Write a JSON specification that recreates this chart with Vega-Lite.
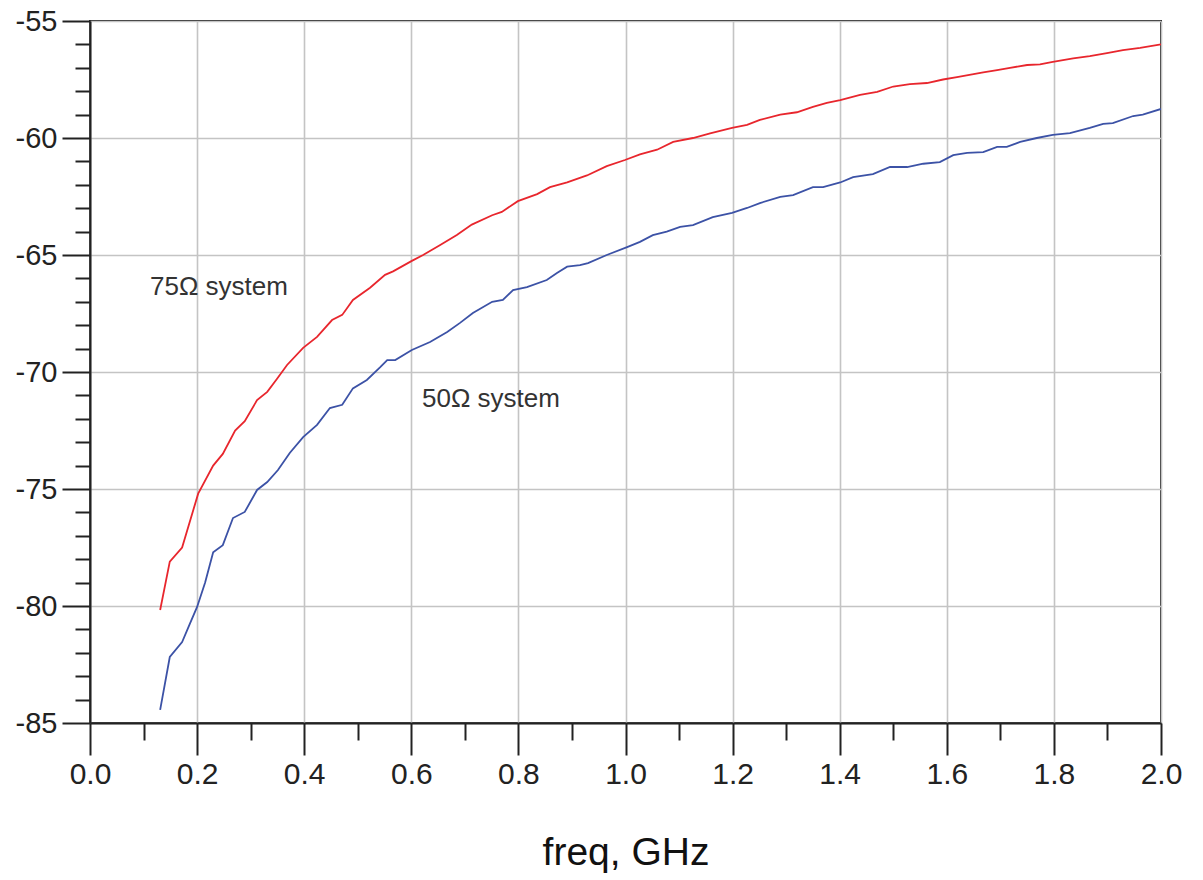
{
  "$schema": "https://vega.github.io/schema/vega-lite/v6.json",
  "width": 1071,
  "height": 702,
  "autosize": {"type": "none"},
  "padding": {"left": 90, "top": 21, "right": 42, "bottom": 157},
  "background": "white",
  "config": {
    "view": {"stroke": "#222", "strokeWidth": 2},
    "font": "Liberation Sans"
  },
  "datasets": {
    "curves": [
      {"system": "75", "f": 0.131, "db": -80.17},
      {"system": "75", "f": 0.149, "db": -78.1},
      {"system": "75", "f": 0.172, "db": -77.5},
      {"system": "75", "f": 0.202, "db": -75.2},
      {"system": "75", "f": 0.230, "db": -74.0},
      {"system": "75", "f": 0.248, "db": -73.5},
      {"system": "75", "f": 0.271, "db": -72.5},
      {"system": "75", "f": 0.289, "db": -72.1},
      {"system": "75", "f": 0.312, "db": -71.2},
      {"system": "75", "f": 0.331, "db": -70.85},
      {"system": "75", "f": 0.349, "db": -70.3},
      {"system": "75", "f": 0.368, "db": -69.7},
      {"system": "75", "f": 0.398, "db": -68.97},
      {"system": "75", "f": 0.424, "db": -68.5},
      {"system": "75", "f": 0.452, "db": -67.78},
      {"system": "75", "f": 0.471, "db": -67.56},
      {"system": "75", "f": 0.491, "db": -66.92},
      {"system": "75", "f": 0.523, "db": -66.4},
      {"system": "75", "f": 0.551, "db": -65.85},
      {"system": "75", "f": 0.566, "db": -65.7},
      {"system": "75", "f": 0.601, "db": -65.25},
      {"system": "75", "f": 0.622, "db": -65.0},
      {"system": "75", "f": 0.654, "db": -64.57},
      {"system": "75", "f": 0.685, "db": -64.15},
      {"system": "75", "f": 0.713, "db": -63.7},
      {"system": "75", "f": 0.751, "db": -63.3},
      {"system": "75", "f": 0.769, "db": -63.16},
      {"system": "75", "f": 0.799, "db": -62.7},
      {"system": "75", "f": 0.835, "db": -62.4},
      {"system": "75", "f": 0.859, "db": -62.1},
      {"system": "75", "f": 0.891, "db": -61.9},
      {"system": "75", "f": 0.928, "db": -61.6},
      {"system": "75", "f": 0.965, "db": -61.2},
      {"system": "75", "f": 0.999, "db": -60.94},
      {"system": "75", "f": 1.027, "db": -60.7},
      {"system": "75", "f": 1.059, "db": -60.5},
      {"system": "75", "f": 1.089, "db": -60.17},
      {"system": "75", "f": 1.126, "db": -60.0},
      {"system": "75", "f": 1.158, "db": -59.8},
      {"system": "75", "f": 1.199, "db": -59.57},
      {"system": "75", "f": 1.227, "db": -59.44},
      {"system": "75", "f": 1.251, "db": -59.23},
      {"system": "75", "f": 1.289, "db": -59.0},
      {"system": "75", "f": 1.320, "db": -58.9},
      {"system": "75", "f": 1.350, "db": -58.67},
      {"system": "75", "f": 1.376, "db": -58.5},
      {"system": "75", "f": 1.401, "db": -58.38},
      {"system": "75", "f": 1.438, "db": -58.16},
      {"system": "75", "f": 1.470, "db": -58.03},
      {"system": "75", "f": 1.500, "db": -57.8},
      {"system": "75", "f": 1.531, "db": -57.7},
      {"system": "75", "f": 1.563, "db": -57.65},
      {"system": "75", "f": 1.593, "db": -57.5},
      {"system": "75", "f": 1.619, "db": -57.4},
      {"system": "75", "f": 1.668, "db": -57.2},
      {"system": "75", "f": 1.694, "db": -57.1},
      {"system": "75", "f": 1.718, "db": -57.0},
      {"system": "75", "f": 1.750, "db": -56.88},
      {"system": "75", "f": 1.774, "db": -56.85},
      {"system": "75", "f": 1.798, "db": -56.75},
      {"system": "75", "f": 1.836, "db": -56.6},
      {"system": "75", "f": 1.867, "db": -56.5},
      {"system": "75", "f": 1.899, "db": -56.37},
      {"system": "75", "f": 1.929, "db": -56.24},
      {"system": "75", "f": 1.961, "db": -56.15},
      {"system": "75", "f": 2.0, "db": -56.0},
      {"system": "50", "f": 0.131, "db": -84.44},
      {"system": "50", "f": 0.149, "db": -82.18},
      {"system": "50", "f": 0.172, "db": -81.54},
      {"system": "50", "f": 0.187, "db": -80.73},
      {"system": "50", "f": 0.200, "db": -80.04},
      {"system": "50", "f": 0.215, "db": -79.0},
      {"system": "50", "f": 0.230, "db": -77.7},
      {"system": "50", "f": 0.248, "db": -77.4},
      {"system": "50", "f": 0.267, "db": -76.24},
      {"system": "50", "f": 0.289, "db": -75.98},
      {"system": "50", "f": 0.312, "db": -75.04},
      {"system": "50", "f": 0.331, "db": -74.7},
      {"system": "50", "f": 0.351, "db": -74.19},
      {"system": "50", "f": 0.373, "db": -73.46},
      {"system": "50", "f": 0.398, "db": -72.78},
      {"system": "50", "f": 0.424, "db": -72.26},
      {"system": "50", "f": 0.448, "db": -71.54},
      {"system": "50", "f": 0.471, "db": -71.4},
      {"system": "50", "f": 0.491, "db": -70.7},
      {"system": "50", "f": 0.517, "db": -70.34},
      {"system": "50", "f": 0.542, "db": -69.79},
      {"system": "50", "f": 0.555, "db": -69.49},
      {"system": "50", "f": 0.570, "db": -69.49},
      {"system": "50", "f": 0.601, "db": -69.06},
      {"system": "50", "f": 0.635, "db": -68.72},
      {"system": "50", "f": 0.667, "db": -68.29},
      {"system": "50", "f": 0.691, "db": -67.9},
      {"system": "50", "f": 0.715, "db": -67.48},
      {"system": "50", "f": 0.751, "db": -67.0},
      {"system": "50", "f": 0.771, "db": -66.92},
      {"system": "50", "f": 0.790, "db": -66.5},
      {"system": "50", "f": 0.816, "db": -66.37},
      {"system": "50", "f": 0.853, "db": -66.07},
      {"system": "50", "f": 0.872, "db": -65.77},
      {"system": "50", "f": 0.891, "db": -65.5},
      {"system": "50", "f": 0.915, "db": -65.43},
      {"system": "50", "f": 0.930, "db": -65.35},
      {"system": "50", "f": 0.965, "db": -65.0},
      {"system": "50", "f": 1.003, "db": -64.66},
      {"system": "50", "f": 1.027, "db": -64.44},
      {"system": "50", "f": 1.051, "db": -64.15},
      {"system": "50", "f": 1.077, "db": -64.0},
      {"system": "50", "f": 1.102, "db": -63.8},
      {"system": "50", "f": 1.126, "db": -63.72},
      {"system": "50", "f": 1.163, "db": -63.38},
      {"system": "50", "f": 1.199, "db": -63.2},
      {"system": "50", "f": 1.227, "db": -62.99},
      {"system": "50", "f": 1.251, "db": -62.78},
      {"system": "50", "f": 1.289, "db": -62.52},
      {"system": "50", "f": 1.313, "db": -62.44},
      {"system": "50", "f": 1.350, "db": -62.1},
      {"system": "50", "f": 1.369, "db": -62.1},
      {"system": "50", "f": 1.401, "db": -61.9},
      {"system": "50", "f": 1.425, "db": -61.67},
      {"system": "50", "f": 1.462, "db": -61.54},
      {"system": "50", "f": 1.494, "db": -61.24},
      {"system": "50", "f": 1.526, "db": -61.24},
      {"system": "50", "f": 1.556, "db": -61.1},
      {"system": "50", "f": 1.587, "db": -61.03},
      {"system": "50", "f": 1.612, "db": -60.73},
      {"system": "50", "f": 1.638, "db": -60.64},
      {"system": "50", "f": 1.668, "db": -60.6},
      {"system": "50", "f": 1.694, "db": -60.38},
      {"system": "50", "f": 1.712, "db": -60.38},
      {"system": "50", "f": 1.737, "db": -60.17},
      {"system": "50", "f": 1.768, "db": -60.0},
      {"system": "50", "f": 1.798, "db": -59.87},
      {"system": "50", "f": 1.830, "db": -59.79},
      {"system": "50", "f": 1.867, "db": -59.57},
      {"system": "50", "f": 1.892, "db": -59.4},
      {"system": "50", "f": 1.910, "db": -59.36},
      {"system": "50", "f": 1.948, "db": -59.06},
      {"system": "50", "f": 1.966, "db": -59.0},
      {"system": "50", "f": 2.0, "db": -58.76}
    ],
    "labels": [
      {"text": "75Ω system", "f": 0.112, "db": -66.71},
      {"text": "50Ω system", "f": 0.62, "db": -71.5}
    ]
  },
  "layer": [
    {
      "data": {"name": "curves"},
      "mark": {"type": "line", "strokeWidth": 1.8, "clip": true},
      "encoding": {
        "x": {
          "field": "f", "type": "quantitative",
          "scale": {"domain": [0, 2], "nice": false, "zero": false},
          "axis": {
            "orient": "bottom",
            "title": "freq, GHz",
            "titleFontSize": 39, "titleFont": "Liberation Sans", "titleFontWeight": "normal", "titleColor": "#111",
            "titleY": 141, "titleBaseline": "alphabetic",
            "values": [0, 0.2, 0.4, 0.6, 0.8, 1.0, 1.2, 1.4, 1.6, 1.8, 2.0],
            "format": ".1f",
            "labelFontSize": 30, "labelColor": "#222", "labelPadding": 4, "labelFlush": false,
            "tickSize": 32, "tickColor": "#222", "tickWidth": 2,
            "domainColor": "#222", "domainWidth": 2,
            "grid": true, "gridColor": "#c4c4c4", "gridWidth": 1.6
          }
        },
        "y": {
          "field": "db", "type": "quantitative",
          "scale": {"domain": [-85, -55], "nice": false, "zero": false},
          "axis": {
            "orient": "left",
            "title": null,
            "values": [-85, -80, -75, -70, -65, -60, -55],
            "labelExpr": "'-' + format(abs(datum.value), 'd')",
            "labelFontSize": 29, "labelColor": "#222", "labelPadding": 5, "labelFlush": false,
            "tickSize": 28, "tickColor": "#222", "tickWidth": 2,
            "domainColor": "#222", "domainWidth": 2,
            "grid": true, "gridColor": "#c4c4c4", "gridWidth": 1.6
          }
        },
        "color": {
          "field": "system", "type": "nominal",
          "scale": {"domain": ["75", "50"], "range": ["#e8262d", "#3c52a6"]},
          "legend": null
        }
      }
    },
    {
      "data": {"name": "labels"},
      "mark": {"type": "text", "align": "left", "baseline": "alphabetic", "fontSize": 26, "color": "#333", "font": "Liberation Sans"},
      "encoding": {
        "x": {
          "field": "f", "type": "quantitative",
          "axis": {
            "orient": "bottom", "title": null, "labels": false, "grid": false, "domain": false,
            "values": [0.1, 0.3, 0.5, 0.7, 0.9, 1.1, 1.3, 1.5, 1.7, 1.9],
            "tickSize": 17, "tickColor": "#222", "tickWidth": 2
          }
        },
        "y": {
          "field": "db", "type": "quantitative",
          "axis": {
            "orient": "left", "title": null, "labels": false, "grid": false, "domain": false,
            "values": [-84, -83, -82, -81, -79, -78, -77, -76, -74, -73, -72, -71, -69, -68, -67, -66, -64, -63, -62, -61, -59, -58, -57, -56],
            "tickSize": 15, "tickColor": "#222", "tickWidth": 2
          }
        },
        "text": {"field": "text", "type": "nominal"}
      }
    }
  ],
  "resolve": {"axis": {"x": "independent", "y": "independent"}}
}
